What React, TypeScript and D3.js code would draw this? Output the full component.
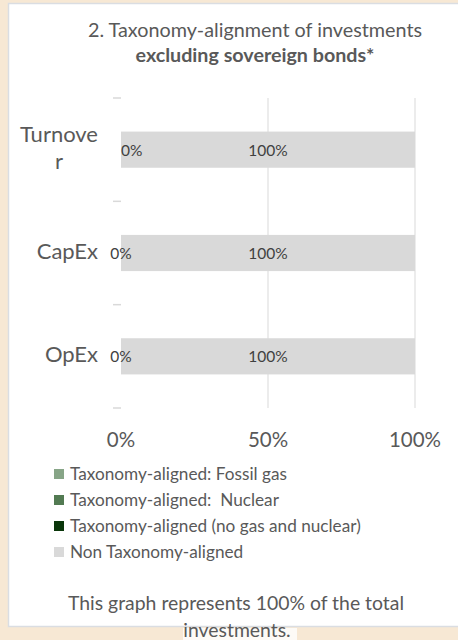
import React, { useRef, useEffect } from "react";
import * as d3 from "d3";

const categories = ["Turnover", "CapEx", "OpEx"];
const categoryLines = [["Turnove", "r"], ["CapEx"], ["OpEx"]];
const seriesNames = [
  "Taxonomy-aligned: Fossil gas",
  "Taxonomy-aligned:  Nuclear",
  "Taxonomy-aligned (no gas and nuclear)",
  "Non Taxonomy-aligned",
];
const seriesColors = ["#87a587", "#527a52", "#0a360a", "#d9d9d9"];
// values per category, in percent
const fossilGas = [0, 0, 0];
const nuclear = [0, 0, 0];
const alignedOther = [0, 0, 0];
const nonAligned = [100, 100, 100];
const xTicks = [0, 50, 100];

const W = 458;
const H = 640;

const App = () => {
  const svgRef = useRef<SVGSVGElement>(null);

  useEffect(() => {
    if (!svgRef.current) return;
    const svg = d3.select(svgRef.current);
    svg.selectAll("*").remove();

    const font = "Lato, 'Open Sans', sans-serif";
    const textColor = "#595959";

    // background + white card
    svg.append("rect").attr("width", W).attr("height", H).attr("fill", "#f7e8d4");
    svg
      .append("rect")
      .attr("x", 8.5)
      .attr("y", 3.5)
      .attr("width", W)
      .attr("height", 623)
      .attr("fill", "#ffffff")
      .attr("stroke", "#dadde2")
      .attr("stroke-width", 1.5);
    svg.append("rect").attr("x", 183).attr("y", 628).attr("width", 114).attr("height", 12).attr("fill", "#fdfaf6");

    // title
    svg
      .append("text")
      .attr("x", 255)
      .attr("y", 37)
      .attr("text-anchor", "middle")
      .style("font-family", font)
      .style("font-size", "19.8px")
      .style("fill", textColor)
      .text("2. Taxonomy-alignment of investments");
    svg
      .append("text")
      .attr("x", 255)
      .attr("y", 62)
      .attr("text-anchor", "middle")
      .style("font-family", font)
      .style("font-size", "19.7px")
      .style("font-weight", "bold")
      .style("fill", textColor)
      .text("excluding sovereign bonds*");

    const x = d3.scaleLinear().domain([0, 100]).range([121, 415]);
    const y = d3
      .scaleBand()
      .domain(categories)
      .range([98, 408])
      .paddingInner(0.65)
      .paddingOuter(0.325);

    // gridlines (skip 0)
    svg
      .append("g")
      .selectAll("line")
      .data(xTicks.filter((t) => t > 0))
      .join("line")
      .attr("x1", (d) => x(d))
      .attr("x2", (d) => x(d))
      .attr("y1", 98)
      .attr("y2", 408)
      .attr("stroke", "#d9d9d9")
      .attr("stroke-width", 1);

    // category tick marks
    const step = y.step();
    svg
      .append("g")
      .selectAll("line")
      .data(d3.range(categories.length + 1))
      .join("line")
      .attr("x1", x(0) - 8)
      .attr("x2", x(0))
      .attr("y1", (i) => 98 + i * step)
      .attr("y2", (i) => 98 + i * step)
      .attr("stroke", "#d9d9d9")
      .attr("stroke-width", 1.5);

    // stacked bars
    const rows = categories.map((c, i) => ({
      category: c,
      values: [fossilGas[i], nuclear[i], alignedOther[i], nonAligned[i]],
    }));
    const bars = svg.append("g");
    rows.forEach((row) => {
      let acc = 0;
      row.values.forEach((v, si) => {
        if (v > 0) {
          bars
            .append("rect")
            .attr("x", x(acc))
            .attr("y", y(row.category)!)
            .attr("width", x(acc + v) - x(acc))
            .attr("height", y.bandwidth())
            .attr("fill", seriesColors[si]);
        }
        acc += v;
      });
    });

    // data labels: aligned (no gas and nuclear) and non-aligned
    rows.forEach((row, ri) => {
      const cy = y(row.category)! + y.bandwidth() / 2;
      const alignedVal = row.values[2];
      const start = row.values[0] + row.values[1];
      svg
        .append("text")
        .attr("x", x(start + alignedVal / 2))
        .attr("y", cy + 6)
        .attr("text-anchor", ri === 0 ? "start" : "middle")
        .style("font-family", font)
        .style("font-size", "15.5px")
        .style("fill", "#404040")
        .text(`${alignedVal}%`);
      const s2 = start + alignedVal;
      svg
        .append("text")
        .attr("x", x(s2 + row.values[3] / 2))
        .attr("y", cy + 6)
        .attr("text-anchor", "middle")
        .style("font-family", font)
        .style("font-size", "15.5px")
        .style("fill", "#404040")
        .text(`${row.values[3]}%`);
    });

    // category labels
    categories.forEach((c, i) => {
      const cy = y(c)! + y.bandwidth() / 2;
      const lines = categoryLines[i];
      const lh = 27;
      const first = cy + 6 - ((lines.length - 1) * lh) / 2;
      const g = svg.append("g");
      const t0 = g
        .append("text")
        .attr("x", 98)
        .attr("y", first)
        .attr("text-anchor", "end")
        .style("font-family", font)
        .style("font-size", "22px")
        .style("fill", textColor)
        .text(lines[0]);
      const w0 = (t0.node() as SVGTextElement).getComputedTextLength();
      lines.slice(1).forEach((ln, li) => {
        g.append("text")
          .attr("x", 98 - w0 / 2)
          .attr("y", first + (li + 1) * lh)
          .attr("text-anchor", "middle")
          .style("font-family", font)
          .style("font-size", "22px")
          .style("fill", textColor)
          .text(ln);
      });
    });

    // x axis labels
    svg
      .append("g")
      .selectAll("text")
      .data(xTicks)
      .join("text")
      .attr("x", (d) => x(d))
      .attr("y", 447)
      .attr("text-anchor", "middle")
      .style("font-family", font)
      .style("font-size", "20.5px")
      .style("fill", textColor)
      .text((d) => `${d}%`);

    // legend
    const legend = svg
      .append("g")
      .selectAll("g")
      .data(seriesNames)
      .join("g")
      .attr("transform", (_, i) => `translate(54,${474 + i * 26})`);
    legend
      .append("rect")
      .attr("x", 0)
      .attr("y", -5)
      .attr("width", 10)
      .attr("height", 10)
      .attr("fill", (_, i) => seriesColors[i]);
    legend
      .append("text")
      .attr("x", 16)
      .attr("y", 5.5)
      .style("font-family", font)
      .style("font-size", "17.2px")
      .style("fill", textColor)
      .style("white-space", "pre")
      .text((d) => d);

    // footer
    svg
      .append("text")
      .attr("x", 236)
      .attr("y", 610)
      .attr("text-anchor", "middle")
      .style("font-family", font)
      .style("font-size", "19.4px")
      .style("fill", textColor)
      .text("This graph represents 100% of the total");
    svg
      .append("text")
      .attr("x", 237)
      .attr("y", 637)
      .attr("text-anchor", "middle")
      .style("font-family", font)
      .style("font-size", "19.4px")
      .style("fill", textColor)
      .text("investments.");
  }, []);

  return (
    <svg
      ref={svgRef}
      width={W}
      height={H}
      style={{ position: "absolute", left: 0, top: 0, display: "block" }}
    ></svg>
  );
};

export default App;
